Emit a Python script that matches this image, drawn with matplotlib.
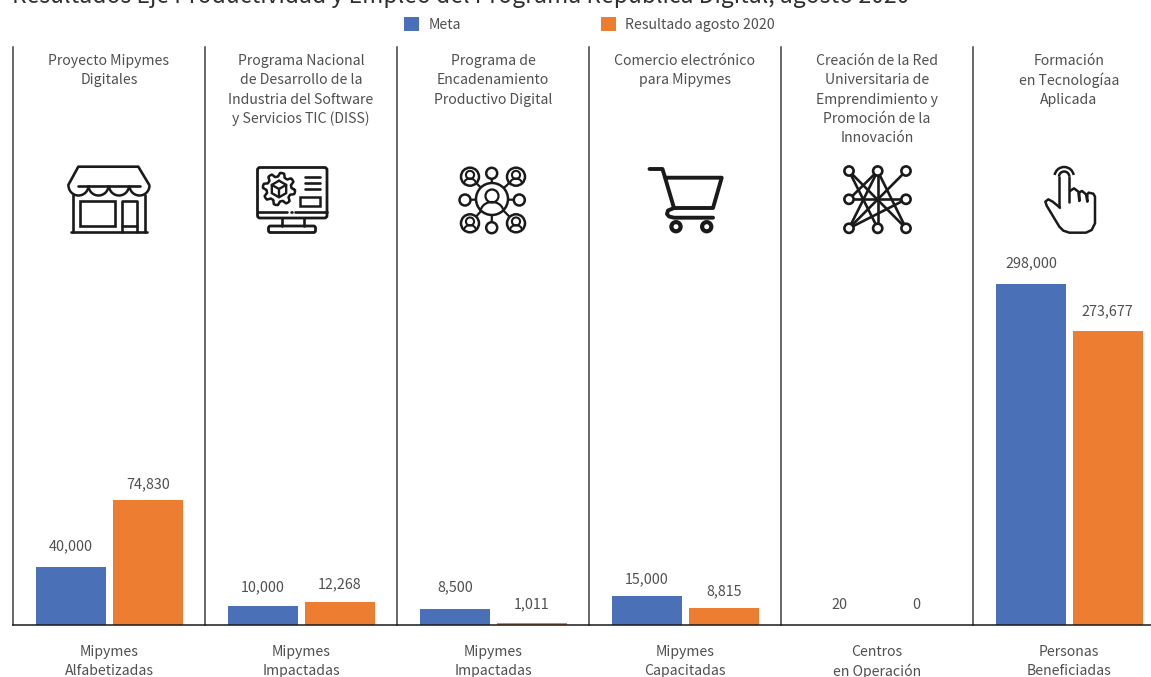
import numpy as np
import matplotlib
matplotlib.use("Agg")
from matplotlib import pyplot as plt
from matplotlib.patches import Circle, FancyBboxPatch, Rectangle, Arc
from matplotlib.lines import Line2D

plt.rcParams['font.family'] = ['Noto Sans CJK SC', 'DejaVu Sans']
plt.rcParams['font.weight'] = 'light'

programas = ["Proyecto Mipymes\nDigitales",
             "Programa Nacional\nde Desarrollo de la\nIndustria del Software\ny Servicios TIC (DISS)",
             "Programa de\nEncadenamiento\nProductivo Digital",
             "Comercio electrónico\npara Mipymes",
             "Creación de la Red\nUniversitaria de\nEmprendimiento y\nPromoción de la\nInnovación",
             "Formación\nen Tecnologíaa\nAplicada"]
unidades = ["Mipymes\nAlfabetizadas", "Mipymes\nImpactadas", "Mipymes\nImpactadas",
            "Mipymes\nCapacitadas", "Centros\nen Operación", "Personas\nBeneficiadas"]

# printed numbers
meta_txt = ["40,000", "10,000", "8,500", "15,000", "20", "298,000"]
res_txt = ["74,830", "12,268", "1,011", "8,815", "0", "273,677"]

# bar heights, on the scale of the tallest bar
# (the source chart does not draw them in proportion to the printed numbers)
meta_alto = [50700, 16600, 14000, 25300, 0, 298000]
res_alto = [109200, 20100, 1750, 14900, 0, 256900]

azul = "#4A70B8"
naranja = "#ED7D31"
gris = "#404040"
gris_txt = "#505050"
negro = "#1a1a1a"
W, H = 1151, 677

fig = plt.figure(figsize=(W / 100, H / 100), dpi=100)
ax = fig.add_axes([13 / W, 1 - 625 / H, (W - 13) / W, (625 - 47) / H])
x = np.arange(len(programas))
ax.bar(x - 0.2, meta_alto, 0.365, color=azul, label="Meta")
ax.bar(x + 0.2, res_alto, 0.365, color=naranja, label="Resultado agosto 2020")
ax.set_xlim(-0.502, 5.425)
ax.set_ylim(0, 505000)
ax.set_yticks([])
ax.set_xticks([])
for s in ["top", "right", "left"]:
    ax.spines[s].set_visible(False)
ax.spines["bottom"].set_linewidth(1.1)
ax.spines["bottom"].set_color(negro)
for i in range(len(programas)):
    ax.axvline(i - 0.5, color=gris, lw=1.1, clip_on=False)

# gap between bar top and centre of its label, px
gap_meta = [21, 19, 22, 17, 20, 21]
gap_res = [16, 18, 19, 17, 20, 20]
for i in range(len(programas)):
    ax.annotate(meta_txt[i], (x[i] - 0.2, meta_alto[i]), xytext=(0, gap_meta[i] * 0.72),
                textcoords="offset points", ha="center", va="center", fontsize=10.3, color=gris_txt)
    ax.annotate(res_txt[i], (x[i] + 0.2, res_alto[i]), xytext=(0, gap_res[i] * 0.72),
                textcoords="offset points", ha="center", va="center", fontsize=10.3, color=gris_txt)

ax.legend(loc="center", bbox_to_anchor=(589.5 / W, 1 - 24.5 / H), bbox_transform=fig.transFigure, ncol=2,
          frameon=False, fontsize=10.2, handlelength=1.06, handleheight=1.06, handletextpad=0.63,
          columnspacing=9.9, labelcolor=gris_txt, borderpad=0)

# overlay in pixel coordinates for the text blocks and the icons
ov = fig.add_axes([0, 0, 1, 1])
ov.set_xlim(0, W)
ov.set_ylim(H, 0)
ov.axis("off")

ov.text(12, 3, "Resultados Eje Productividad y Empleo del Programa República Digital, agosto 2020",
        fontsize=16.5, color="#303030", ha="left", va="baseline")
for i in range(len(programas)):
    cx = 109 + 192 * i
    for j, linea in enumerate(programas[i].split("\n")):
        ov.text(cx, 61 + 19.3 * j, linea, fontsize=10.15, color=gris_txt, ha="center", va="center")
    for j, linea in enumerate(unidades[i].split("\n")):
        ov.text(cx, 652 + 19 * j, linea, fontsize=10.15, color=gris_txt, ha="center", va="center")


def poly(xs, ys, lw=1.9, c=negro):
    ov.add_line(Line2D(xs, ys, color=c, lw=lw, solid_capstyle="round", solid_joinstyle="round"))


def ring(cx, cy, r, lw=1.8, fc="white", c=negro):
    ov.add_patch(Circle((cx, cy), r, fc=fc, ec=c, lw=lw, zorder=3))


def arc(cx, cy, w, h, a, b, lw=1.8):
    ov.add_patch(Arc((cx, cy), w, h, theta1=a, theta2=b, color=negro, lw=lw, zorder=4))


def tienda():
    poly([68.3, 78.3, 138.3, 149.3], [185, 166.7, 166.7, 185])
    poly([78, 140], [185.7, 185.7])
    for cx in [78.5, 98.5, 119, 139.5]:
        arc(cx, 185.5, 20, 20, 0, 180)
    poly([73.3, 73.3], [195, 232.3])
    poly([145, 145], [195, 232.3])
    poly([70.7, 147.3], [232.3, 232.3])
    ov.add_patch(Rectangle((80, 201), 35, 24.7, fc="none", ec=negro, lw=1.9))
    poly([121.7, 121.7, 137.3, 137.3], [232.3, 201, 201, 232.3])
    poly([121.7, 137.3], [225.7, 225.7])


def monitor():
    ov.add_patch(FancyBboxPatch((257.5, 167.5), 69.5, 50.5, boxstyle="round,pad=0,rounding_size=2.5", fc="none", ec=negro, lw=2.0))
    poly([258, 287], [211.7, 211.7])
    poly([295, 327], [211.7, 211.7])
    poly([291.5, 291.6], [211.7, 211.7])
    poly([281.7, 281.7], [218, 225.7])
    poly([304, 304], [218, 225.7])
    ov.add_patch(FancyBboxPatch((268.5, 226), 47, 6.5, boxstyle="round,pad=0,rounding_size=2", fc="none", ec=negro, lw=2.0))
    ang = np.linspace(0, 2 * np.pi, 97)
    rad = 14.3 + 1.9 * np.tanh(3 * np.sin(8 * ang))
    poly(279 + rad * np.cos(ang), 189 + rad * np.sin(ang), lw=1.8)
    a6 = np.radians(np.arange(-90, 300, 60))
    hx, hy = 279 + 8.3 * np.cos(a6), 189 + 8.3 * np.sin(a6)
    poly(hx, hy, lw=1.7)
    for k in [1, 3, 5]:
        poly([279, hx[k]], [189, hy[k]], lw=1.7)
    for yy in [176.7, 182.7, 188.7]:
        poly([300, 300.2], [yy, yy])
        poly([305, 320], [yy, yy])
    ov.add_patch(Rectangle((300, 196.7), 20, 9, fc="none", ec=negro, lw=1.8))


def persona(cx, cy, r):
    ring(cx, cy, r)
    ov.add_patch(Circle((cx, cy - r * 0.2), r * 0.45, fc="none", ec=negro, lw=1.5, zorder=4))
    arc(cx, cy + r * 0.8, r * 1.35, r * 1.2, 180, 360, lw=1.5)


def red_personas():
    cx, cy = 492, 199
    for px, py in [(491.7, 173.3), (491.7, 227.7), (465, 200), (519.3, 200)]:
        poly([cx, px], [cy, py], lw=1.6)
        ring(px, py, 5.5)
    for px, py in [(470, 176.7), (516, 176.7), (470, 223.3), (516, 223.3)]:
        poly([cx, px], [cy, py], lw=1.6)
        persona(px, py, 9)
    ring(cx, cy, 16)
    ov.add_patch(Circle((cx, cy - 3), 6.5, fc="none", ec=negro, lw=1.6, zorder=4))
    poly([cx - 6.5, cx - 4, cx + 4, cx + 6.5], [cy - 4, cy - 7, cy - 7, cy - 4], lw=1.6)
    arc(cx, cy + 13, 23, 20, 180, 360, lw=1.6)


def carrito():
    poly([649.5, 662.5, 674, 713, 721.7, 666.5], [169, 169, 208, 208, 177.7, 177.7], lw=2.8)
    poly([674, 668, 667, 669, 674, 713], [208, 210.5, 214, 216.5, 217.7, 217.7], lw=2.8)
    ring(676, 226.7, 4.6, lw=3.0)
    ring(706.7, 226.7, 4.6, lw=3.0)


def red_nodos():
    xs = [849, 877.7, 906]
    ys = [171, 199.3, 228.3]
    aristas = [((0, 0), (1, 2)), ((0, 0), (2, 2)), ((1, 0), (0, 2)), ((1, 0), (1, 2)), ((1, 0), (2, 2)),
               ((2, 0), (0, 2)), ((1, 0), (0, 1)), ((0, 1), (2, 1)), ((0, 2), (2, 1))]
    for a, b in aristas:
        poly([xs[a[0]], xs[b[0]]], [ys[a[1]], ys[b[1]]], lw=1.9)
    for xx in xs:
        for yy in ys:
            if xx == xs[1] and yy == ys[1]:
                continue
            ring(xx, yy, 4.6, lw=1.9)


def mano():
    ox, oy = 830, 155
    px = [690, 668, 655, 646, 650, 688, 700, 718, 768, 785, 795, 795, 790, 776, 772, 772, 768, 756, 748, 748, 745, 732, 720]
    py = [158, 140, 133, 140, 152, 215, 227, 233, 233, 225, 205, 125, 116, 113, 118, 140, 118, 108, 112, 138, 110, 100, 108]
    poly(ox + np.array(px) / 3, oy + np.array(py) / 3, lw=1.8)
    poly([ox + 687 / 3, ox + 687 / 3], [oy + 65 / 3, oy + 155 / 3], lw=1.8)
    poly([ox + 718 / 3, ox + 718 / 3], [oy + 65 / 3, oy + 140 / 3], lw=1.8)
    arc(ox + 702.5 / 3, oy + 65 / 3, 31 / 3, 31 / 3, 180, 360)
    arc(ox + 702.5 / 3, oy + 65 / 3, 58 / 3, 58 / 3, 190, 350)


tienda()
monitor()
red_personas()
carrito()
red_nodos()
mano()

fig.savefig("out.png", dpi=100)
